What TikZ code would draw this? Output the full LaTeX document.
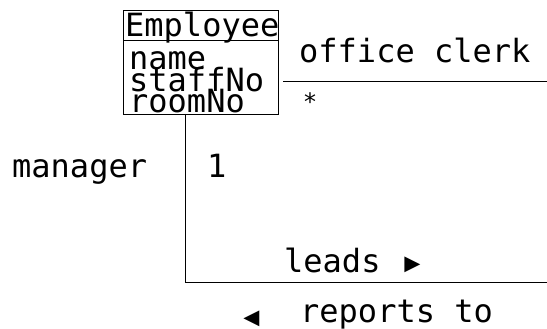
\documentclass[tikz,border=0pt]{standalone}
\usepackage{fontspec}
\newfontfamily\umlfont{DejaVu Sans Mono}
\begin{document}
\begin{tikzpicture}[x=1pt,y=-1pt,
  txt/.style={inner sep=0pt,anchor=base west,font=\umlfont\fontsize{32}{32}\selectfont},
  mark glyph/.style={inner sep=0pt,anchor=center,font=\umlfont\fontsize{41}{41}\selectfont},
  star glyph/.style={inner sep=0pt,anchor=center,font=\umlfont\fontsize{24}{24}\selectfont},
  edge/.style={draw=black,line width=1pt}]
\useasboundingbox (0,0) rectangle (547,329);
% class box
\node[draw=black,line width=1pt,minimum width=155pt,minimum height=104pt,inner sep=0pt,anchor=north west] (cls) at (123,10) {};
\draw[line width=1pt] (123,41) -- (278,41);
\node[txt] (cname) at (125,37) {Employee};
\node[txt] (a1) at (129,70) {name};
\node[txt] (a2) at (129,92) {staffNo};
\node[txt] (a3) at (129,113) {roomNo};
% association ends
\coordinate (r1) at (283,82);
\coordinate (r2) at (547,82);
\coordinate (b1) at (185,114);
\coordinate (b2) at (185,282);
\coordinate (b3) at (547,282);
\draw[edge] (r1) -- (r2);
\draw[edge] (b1) -- (b2) -- (b3);
% labels
\node[txt] (role1) at (299,63) {office clerk};
\node[star glyph] (mult1) at (310,102) {*};
\node[txt] (role2) at (12,178) {manager};
\node[txt] (mult2) at (207,178) {1};
\node[txt] (lead) at (284,272) {leads};
\node[mark glyph] (leadarrow) at (413,266) {▸};
\node[txt] (rep) at (300,322) {reports to};
\node[mark glyph] (reparrow) at (251.5,320) {◂};
\end{tikzpicture}
\end{document}
